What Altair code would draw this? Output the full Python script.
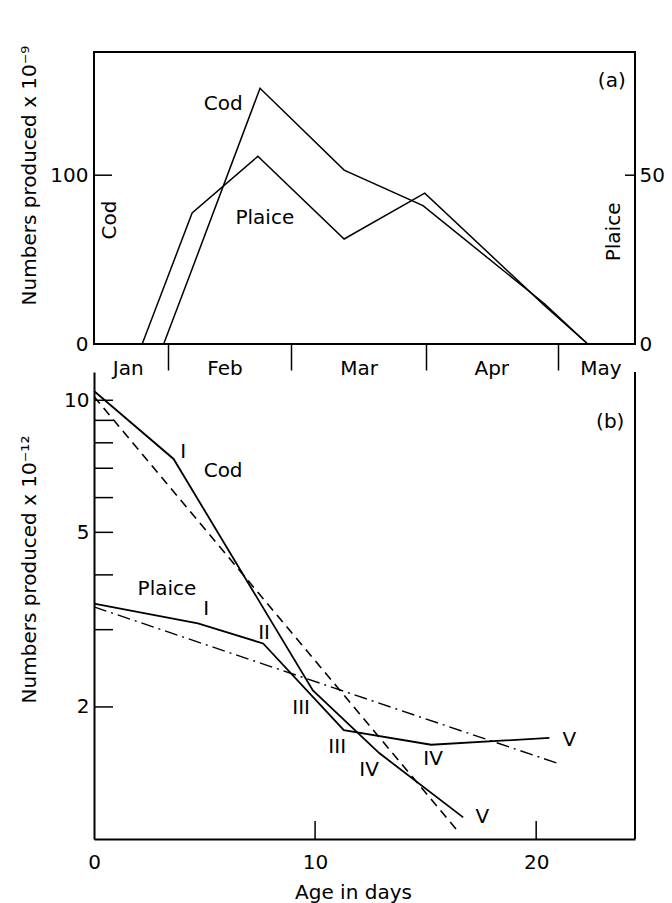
import altair as alt
import pandas as pd

# ---------------- Panel (a): production through the spawning season ----------------
cod_a_day = [31.0, 37.0, 53.0, 72.2, 90.2, 118.0, 127.8]
cod_a_val = [0, 41, 151.5, 103, 82, 23.7, 0]
plaice_a_day = [26.1, 37.5, 52.5, 72.2, 90.6, 117.6, 127.8]
plaice_a_val = [0, 38.8, 55.6, 31.1, 44.7, 11.8, 0]

month_names = ["Jan", "Feb", "Mar", "Apr", "May"]
month_mid = [22.9, 45.0, 75.6, 105.9, 130.8]
month_bounds = [32, 60, 91, 121]

a_text = ["Cod", "Plaice", "(a)"]
a_text_day = [44.6, 54.1, 133.3]
a_text_val = [142, 74.6, 156]

a_side_text = ["Cod", "Plaice"]
a_side_day = [18.75, 133.8]
a_side_val = [73.5, 66.4]

# ---------------- Panel (b): numbers by age ----------------
cod_b_day = [0, 3.6, 9.9, 12.9, 16.7]
cod_b_val = [10.5, 7.35, 2.18, 1.57, 1.12]
plaice_b_day = [0, 4.7, 7.65, 11.3, 15.25, 20.6]
plaice_b_val = [3.44, 3.10, 2.79, 1.77, 1.64, 1.70]
cod_fit_day = [0, 16.4]
cod_fit_val = [10.2, 1.05]
plaice_fit_day = [0, 21.1]
plaice_fit_val = [3.38, 1.48]

stage_text = ["I", "I", "II", "III", "III", "IV", "IV", "V", "V"]
stage_day = [4.03, 5.07, 7.69, 9.37, 11.0, 12.44, 15.34, 17.56, 21.5]
stage_val = [7.63, 3.35, 2.955, 1.99, 1.62, 1.44, 1.52, 1.12, 1.68]

b_text = ["Cod", "Plaice", "(b)"]
b_text_day = [5.84, 3.30, 23.35]
b_text_val = [6.91, 3.71, 8.92]

b_ytick_vals = [2, 3, 4, 5, 6, 7, 8, 9, 10]
b_xtick_vals = [10, 20]

FONT = "DejaVu Sans"
W_A, H_A = 541, 292
W_B, H_B = 541, 467


def xa():
    return alt.X(
        "day:Q",
        scale=alt.Scale(domain=[15.1, 138.6], nice=False, zero=False),
        axis=alt.Axis(values=month_bounds, labels=False, tickSize=26, tickWidth=1.5,
                      tickColor="black", domain=False, grid=False, title=None),
    )


def ycod():
    return alt.Y(
        "v:Q",
        scale=alt.Scale(domain=[0, 173], nice=False),
        axis=alt.Axis(values=[0, 100], tickSize=0, domain=False, grid=False,
                      labelPadding=6, labelFlush=False, labelOverlap=False,
                      title="Numbers produced x 10⁻⁹", titleX=-59, titleY=123,
                      titleAngle=270, titleBaseline="alphabetic", titleAlign="center"),
    )


def yplaice():
    return alt.Y(
        "p:Q",
        scale=alt.Scale(domain=[0, 86.5], nice=False),
        axis=alt.Axis(orient="right", values=[0, 50], tickSize=0, domain=False, grid=False,
                      labelPadding=4, labelFlush=False, labelOverlap=False, title=None),
    )


cod_a_df = pd.DataFrame({"day": cod_a_day, "v": cod_a_val})
plaice_a_df = pd.DataFrame({"day": plaice_a_day, "p": plaice_a_val})
month_df = pd.DataFrame({"day": month_mid, "name": month_names})
a_text_df = pd.DataFrame({"day": a_text_day, "v": a_text_val, "t": a_text})
a_side_df = pd.DataFrame({"day": a_side_day, "v": a_side_val, "t": a_side_text})

cod_line_a = alt.Chart(cod_a_df).mark_line(color="black", strokeWidth=1.5).encode(x=xa(), y=ycod())
cod_tick_a = alt.Chart(pd.DataFrame({"v": [100]})).mark_rule(color="black", strokeWidth=1.5).encode(
    y=ycod(), x=alt.value(0), x2=alt.value(18))
a_labels = alt.Chart(a_text_df).mark_text(fontSize=20, font=FONT, color="black").encode(
    x=xa(), y=ycod(), text="t:N")
a_side = alt.Chart(a_side_df).mark_text(fontSize=20, font=FONT, color="black", angle=270).encode(
    x=xa(), y=ycod(), text="t:N")
months = alt.Chart(month_df).mark_text(fontSize=20, font=FONT, color="black", baseline="middle").encode(
    x=xa(), y=alt.value(317), text="name:N")
anchor = alt.Chart(pd.DataFrame({"v": [0]})).mark_rule(color="white", strokeWidth=1).encode(
    x=alt.value(-87), x2=alt.value(-86), y=alt.value(-45), y2=alt.value(-44))

plaice_line_a = alt.Chart(plaice_a_df).mark_line(color="black", strokeWidth=1.5).encode(x=xa(), y=yplaice())
plaice_tick_a = alt.Chart(pd.DataFrame({"p": [50]})).mark_rule(color="black", strokeWidth=1.5).encode(
    y=yplaice(), x=alt.value(W_A - 10), x2=alt.value(W_A))

cod_group = alt.layer(cod_line_a, cod_tick_a, a_labels, a_side, months, anchor)
plaice_group = alt.layer(plaice_line_a, plaice_tick_a)

panel_a = alt.layer(cod_group, plaice_group).resolve_scale(y="independent").properties(
    width=W_A, height=H_A, view=alt.ViewBackground(stroke="black", strokeWidth=2))


# ---------------- Panel (b) ----------------
def xb():
    return alt.X(
        "day:Q",
        scale=alt.Scale(domain=[0, 24.47], nice=False, zero=False),
        axis=alt.Axis(values=[0, 10, 20], tickSize=0, grid=False, domainWidth=2, domainColor="black",
                      labelPadding=13, labelFlush=False, labelOverlap=False,
                      title="Age in days", titleX=259, titleY=53, titleBaseline="middle",
                      titleAlign="center"),
    )


def yb():
    return alt.Y(
        "v:Q",
        scale=alt.Scale(type="log", domain=[1, 11.6], nice=False),
        axis=alt.Axis(values=[2, 5, 10], format="~g", tickSize=0, grid=False, domainWidth=2,
                      domainColor="black", labelPadding=5, labelFlush=False, labelOverlap=False,
                      title="Numbers produced x 10⁻¹²", titleX=-59, titleY=197,
                      titleAngle=270, titleBaseline="alphabetic", titleAlign="center"),
    )


cod_b_df = pd.DataFrame({"day": cod_b_day, "v": cod_b_val})
plaice_b_df = pd.DataFrame({"day": plaice_b_day, "v": plaice_b_val})
cod_fit_df = pd.DataFrame({"day": cod_fit_day, "v": cod_fit_val})
plaice_fit_df = pd.DataFrame({"day": plaice_fit_day, "v": plaice_fit_val})
stage_df = pd.DataFrame({"day": stage_day, "v": stage_val, "t": stage_text})
b_text_df = pd.DataFrame({"day": b_text_day, "v": b_text_val, "t": b_text})

cod_line_b = alt.Chart(cod_b_df).mark_line(color="black", strokeWidth=1.8).encode(x=xb(), y=yb())
plaice_line_b = alt.Chart(plaice_b_df).mark_line(color="black", strokeWidth=1.8).encode(x=xb(), y=yb())
cod_fit = alt.Chart(cod_fit_df).mark_line(color="black", strokeWidth=1.6, strokeDash=[9, 6]).encode(
    x=xb(), y=yb())
plaice_fit = alt.Chart(plaice_fit_df).mark_line(color="black", strokeWidth=1.4,
                                                strokeDash=[13, 5, 2, 5]).encode(x=xb(), y=yb())
stages = alt.Chart(stage_df).mark_text(fontSize=20, font=FONT, color="black").encode(
    x=xb(), y=yb(), text="t:N")
b_labels = alt.Chart(b_text_df).mark_text(fontSize=20, font=FONT, color="black").encode(
    x=xb(), y=yb(), text="t:N")
ytick_b = alt.Chart(pd.DataFrame({"v": b_ytick_vals})).mark_rule(color="black", strokeWidth=1.5).encode(
    y=yb(), x=alt.value(0), x2=alt.value(19))
xtick_b = alt.Chart(pd.DataFrame({"day": b_xtick_vals})).mark_rule(color="black", strokeWidth=1.5).encode(
    x=xb(), y=alt.value(H_B), y2=alt.value(H_B - 18))
right_frame = alt.Chart(pd.DataFrame({"v": [0]})).mark_rule(color="black", strokeWidth=2).encode(
    x=alt.value(W_B), y=alt.value(0), y2=alt.value(H_B))

panel_b = alt.layer(cod_fit, plaice_fit, cod_line_b, plaice_line_b, stages, b_labels,
                    ytick_b, xtick_b, right_frame).properties(width=W_B, height=H_B)

chart = alt.vconcat(panel_a, panel_b, spacing=28, bounds="flush").configure(
    font=FONT
).configure_view(
    strokeWidth=0
).configure_axis(
    labelFontSize=20, labelFont=FONT, labelColor="black",
    titleFontSize=20, titleFont=FONT, titleColor="black", titleFontWeight="normal",
)

chart.save("out.html", embed_options={"renderer": "svg", "actions": False})
